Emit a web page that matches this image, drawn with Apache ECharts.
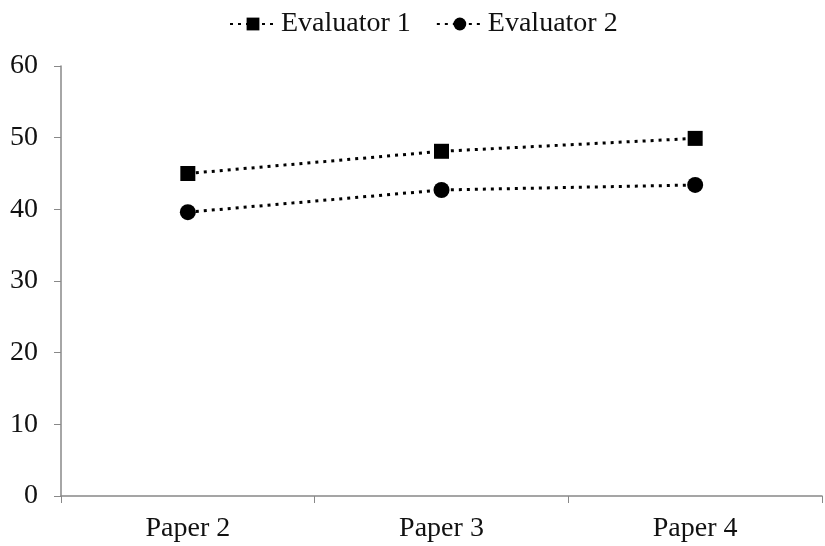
<!DOCTYPE html>
<html><head><meta charset="utf-8">
<script src="https://cdn.jsdelivr.net/npm/echarts@6/dist/echarts.min.js"></script>
<style>html,body{margin:0;padding:0;background:#fff}#c{width:825px;height:546px}</style>
</head><body><div id="c"></div>
<script>
const categories = ['Paper 2', 'Paper 3', 'Paper 4'];
const evaluator1 = [45.0, 48.1, 49.9];
const evaluator2 = [39.6, 42.7, 43.4];
const yTicks = [0, 10, 20, 30, 40, 50, 60];

const font = 'Liberation Serif';
const chart = echarts.init(document.getElementById('c'));
const lineStyle = { color: '#000', width: 3, type: [3, 5] };
chart.setOption({
  backgroundColor: '#fff',
  animation: false,
  textStyle: { fontFamily: font },
  legend: {
    top: 5, left: 224,
    itemWidth: 46, itemHeight: 16, itemGap: 25,
    textStyle: { fontFamily: font, fontSize: 28, color: '#111' },
    data: ['Evaluator 1', 'Evaluator 2']
  },
  grid: { left: 61, right: 3, top: 66, bottom: 50 },
  xAxis: {
    type: 'category', data: categories, boundaryGap: true,
    axisLine: { lineStyle: { color: '#888', width: 1.5 } },
    axisTick: { show: true, length: 7, lineStyle: { color: '#888' } },
    axisLabel: { fontFamily: font, fontSize: 28, color: '#111', margin: 19 }
  },
  yAxis: {
    type: 'value', min: yTicks[0], max: yTicks[yTicks.length - 1], interval: 10,
    splitLine: { show: false },
    axisLine: { show: true, lineStyle: { color: '#888', width: 1.5 } },
    axisTick: { show: true, length: 7, lineStyle: { color: '#888' } },
    axisLabel: { fontFamily: font, fontSize: 28, color: '#111', margin: 23 }
  },
  series: [
    { name: 'Evaluator 1', type: 'line', data: evaluator1, symbol: 'rect', symbolSize: 15,
      itemStyle: { color: '#000' }, lineStyle: lineStyle },
    { name: 'Evaluator 2', type: 'line', data: evaluator2, symbol: 'circle', symbolSize: 16,
      itemStyle: { color: '#000' }, lineStyle: lineStyle }
  ]
});
</script></body></html>
